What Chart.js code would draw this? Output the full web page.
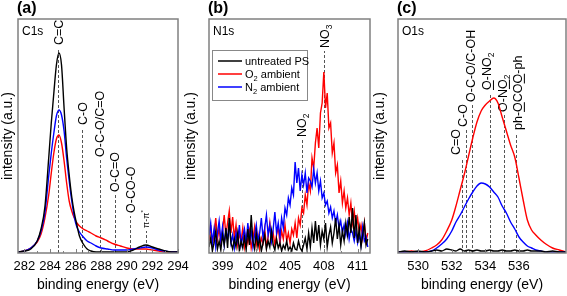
<!DOCTYPE html>
<html>
<head>
<meta charset="utf-8">
<script src="https://cdn.jsdelivr.net/npm/chart.js@4.4.0/dist/chart.umd.min.js"></script>
<style>
  html, body { margin: 0; padding: 0; background: #fff; }
  body { width: 567px; height: 296px; position: relative; overflow: hidden; }
  canvas { position: absolute; top: 0; }
  #chartA { left: 0; }
  #chartB { left: 183px; }
  #chartC { left: 372px; }
</style>
</head>
<body>
<canvas id="chartA" width="190" height="296"></canvas>
<canvas id="chartB" width="195" height="296"></canvas>
<canvas id="chartC" width="195" height="296"></canvas>
<script>
// --- DATOS: C1s ---
const C1S_ENERGY = [281.5, 282.0, 282.5, 283.0, 283.3, 283.6, 283.9, 284.1, 284.3, 284.5, 284.7, 284.9,
  285.1, 285.3, 285.5, 285.7, 285.9, 286.1, 286.3, 286.6, 286.9, 287.2, 287.6, 288.0, 288.5, 289.0,
  289.5, 290.0, 290.5, 291.0, 291.5, 292.0, 292.5, 293.0, 293.5, 294.0];
const C1S_UNTREATED = [1, 2, 4, 12, 24, 46, 95, 130, 160, 188, 200, 188, 145, 105, 78, 56, 40, 28, 17, 9, 4, 2,
  1, 1, 1, 1, 1, 1, 3, 6, 8, 6, 4, 2, 1, 1];
const C1S_O2 = [1, 2, 5, 11, 19, 35, 58, 80, 100, 114, 118, 110, 92, 70, 52, 42, 35, 30, 27, 24, 22, 20,
  17, 15, 12, 9, 7, 5, 4, 4, 4, 3, 2, 1, 1, 1];
const C1S_N2 = [1, 2, 5, 12, 22, 40, 77, 100, 120, 137, 143, 138, 122, 95, 72, 52, 36, 26, 21, 16, 12, 10,
  7, 5, 4, 3, 3, 3, 4, 5, 6, 5, 3, 2, 1, 1];
const C1S_TICKS = [282, 284, 286, 288, 290, 292, 294];
const C1S_LINE_E = [284.65, 286.5, 287.87, 289.04, 290.26, 291.49];
const C1S_LABELS = ['C=C', 'C-O', 'O-C-O/C=O', 'O-C=O', 'O-CO-O', 'π-π^*'];
const C1S_LABEL_AT = [208, 128, 96, 61, 40, 25];

// --- DATOS: N1s ---
const N1S_START = 397.8;
const N1S_STEP = 0.15;
const N1S_UNTREATED = [6, 15, 2, 10, 22, 4, 12, 3, 18, 8, 25, 5, 35, 10, 4, 14, 6, 20, 2, 12, 5, 16, 3, 24,
  8, 38, 12, 4, 20, 6, 15, 2, 10, 18, 4, 12, 6, 22, 8, 3, 14, 5, 10, 2, 8, 4, 12, 3,
  6, 2, 10, 4, 3, 12, 5, 2, 8, 15, 4, 20, 6, 25, 10, 32, 12, 28, 8, 22, 14, 30, 6, 18,
  26, 10, 20, 35, 14, 28, 8, 22, 12, 30, 18, 36, 20, 45, 15, 38, 10, 25, 6, 18, 30, 8, 14];
const N1S_O2 = [12, 28, 8, 20, 35, 14, 25, 10, 22, 38, 18, 30, 42, 20, 36, 15, 28, 8, 20, 12, 25, 6, 18, 10,
  22, 5, 14, 26, 8, 18, 4, 15, 10, 24, 6, 16, 30, 12, 20, 8, 18, 26, 10, 22, 14, 28, 12, 20,
  10, 24, 18, 30, 15, 35, 28, 45, 40, 58, 48, 70, 62, 95, 85, 110, 125, 105, 140, 150, 181, 145, 160, 125,
  130, 100, 110, 80, 88, 60, 72, 50, 62, 45, 55, 38, 50, 30, 42, 25, 35, 20, 28, 15, 30, 12, 20];
const N1S_N2 = [18, 30, 10, 24, 6, 20, 32, 12, 26, 8, 22, 14, 30, 10, 18, 5, 20, 12, 28, 8, 16, 24, 10, 30,
  14, 22, 6, 18, 28, 12, 20, 35, 15, 25, 38, 18, 28, 12, 24, 41, 20, 30, 16, 35, 25, 45, 38, 55,
  48, 65, 58, 91, 70, 85, 62, 78, 68, 80, 60, 75, 72, 66, 84, 70, 80, 62, 72, 55, 60, 48, 52, 40,
  46, 35, 42, 30, 38, 25, 32, 20, 28, 18, 30, 14, 24, 20, 12, 22, 10, 18, 8, 26, 12, 16, 6];
const N1S_ENERGY = N1S_O2.map((_, i) => +(N1S_START + i * N1S_STEP).toFixed(2));
const N1S_TICKS = [399, 402, 405, 408, 411];
const N1S_LINE_E = [406.03, 408.03];
const N1S_LABELS = ['NO_2', 'NO_3'];
const N1S_LABEL_AT = [116, 205];

// --- DATOS: O1s ---
const O1S_ENERGY = [528.8, 529.2, 529.6, 530.0, 530.4, 530.8, 531.1, 531.4, 531.7, 532.0, 532.25, 532.5,
  532.75, 533.0, 533.25, 533.5, 533.75, 534.0, 534.25, 534.5, 534.75, 535.0, 535.25, 535.5, 535.75,
  536.0, 536.25, 536.5, 536.75, 537.0, 537.3, 537.6, 538.0, 538.4, 538.8];
const O1S_UNTREATED = [1, 2, 1, 2, 1, 2, 3, 2, 4, 3, 2, 4, 2, 3, 2, 3, 2, 2, 3, 2, 2, 3, 2, 2, 3, 2, 2, 3, 2, 2, 2, 1, 2, 1, 1];
const O1S_O2 = [1, 1, 2, 1, 2, 5, 8, 13, 22, 33, 47, 63, 79, 97, 115, 131, 142, 148, 152, 155, 150, 136,
  122, 108, 96, 75, 53, 33, 23, 18, 13, 9, 5, 3, 1];
const O1S_N2 = [1, 1, 1, 1, 1, 2, 5, 9, 14, 22, 31, 38, 46, 54, 61, 67, 70, 69, 66, 61, 56, 47, 40, 31, 24,
  16, 11, 7, 5, 3, 2, 1, 1, 1, 1];
const O1S_TICKS = [530, 532, 534, 536];
const O1S_LINE_E = [532.61, 532.82, 533.23, 534.26, 535.11, 535.85];
const O1S_LABEL_E = [532.25, 532.66, 533.09, 534.08, 535.03, 535.92];
const O1S_LABELS = ['C=O', 'C-O', 'O-C-O/C-OH', '[O]-NO_2', 'O-N[O]_2', 'ph-[O]CO[O]-ph'];
const O1S_LABEL_AT = [98, 126, 151, 163, 141, 123];

const SERIES_NAMES = ['untreated PS', 'O_2 ambient', 'N_2 ambient'];
const SERIES_COLORS = ['#000000', '#ff0000', '#0000ff'];

const FONT = '"Liberation Sans", Arial, sans-serif';
const Y_MAX = 234;

// --- TEXTO CON SUBÍNDICES ---
const parseRich = (str) => {
  const segs = [];
  let under = false;
  for (let i = 0; i < str.length; i++) {
    const ch = str[i];
    if (ch === '[') { under = true; continue; }
    if (ch === ']') { under = false; continue; }
    if (ch === '_' || ch === '^') { segs.push({ t: str[i + 1], mode: ch, under }); i++; continue; }
    segs.push({ t: ch, mode: '', under });
  }
  return segs;
};

const drawRich = (ctx, str, x, y, size, rotate) => {
  ctx.save();
  ctx.translate(x, y);
  if (rotate) ctx.rotate(-Math.PI / 2);
  ctx.textBaseline = 'alphabetic';
  ctx.textAlign = 'left';
  ctx.fillStyle = '#000';
  let cx = 0;
  const base = rotate ? size * 0.36 : 0;
  parseRich(str).forEach(s => {
    const fs = s.mode ? size * 0.68 : size;
    ctx.font = `${fs}px ${FONT}`;
    const dy = s.mode === '_' ? size * 0.25 : s.mode === '^' ? -size * 0.42 : 0;
    ctx.fillText(s.t, cx, base + dy);
    const w = ctx.measureText(s.t).width;
    if (s.under) ctx.fillRect(cx, base + size * 0.14, w, 1);
    cx += w;
  });
  ctx.restore();
};

// --- PLUGIN DE DECORACIÓN ---
const decorPlugin = {
  id: 'decor',
  beforeDatasetsDraw(chart, args, opts) {
    const { ctx, chartArea, scales: { x, y } } = chart;
    ctx.save();
    ctx.strokeStyle = '#555';
    ctx.lineWidth = 1;
    ctx.setLineDash([3, 2]);
    opts.lineE.forEach((e, i) => {
      const px = Math.round(x.getPixelForValue(e)) + 0.5;
      const top = y.getPixelForValue(opts.labelAt[i]) + 3;
      ctx.beginPath();
      ctx.moveTo(px, chartArea.bottom);
      ctx.lineTo(px, top);
      ctx.stroke();
    });
    ctx.restore();
    opts.labels.forEach((lab, i) => {
      const e = opts.labelE ? opts.labelE[i] : opts.lineE[i];
      const size = lab.indexOf('π') >= 0 ? 9 : 12.5;
      drawRich(ctx, lab, x.getPixelForValue(e), y.getPixelForValue(opts.labelAt[i]), size, true);
    });
  },
  afterDatasetsDraw(chart, args, opts) {
    const { ctx, chartArea: a, scales: { x } } = chart;
    ctx.save();
    ctx.strokeStyle = '#808080';
    ctx.lineWidth = 1.5;
    ctx.strokeRect(a.left, a.top, a.right - a.left, a.bottom - a.top);
    // marcas de eje hacia dentro
    ctx.lineWidth = 1;
    const vals = x.ticks.map(t => t.value);
    vals.forEach((v, i) => {
      const px = Math.round(x.getPixelForValue(v)) + 0.5;
      ctx.beginPath(); ctx.moveTo(px, a.bottom); ctx.lineTo(px, a.bottom - 4); ctx.stroke();
      if (i < vals.length - 1) {
        const mx = Math.round(x.getPixelForValue((v + vals[i + 1]) / 2)) + 0.5;
        ctx.beginPath(); ctx.moveTo(mx, a.bottom); ctx.lineTo(mx, a.bottom - 2); ctx.stroke();
      }
    });
    ctx.restore();
    // etiqueta del panel y del nivel
    ctx.save();
    ctx.fillStyle = '#000';
    ctx.font = `bold 16px ${FONT}`;
    ctx.textBaseline = 'alphabetic';
    ctx.fillText(opts.tag, a.left - 1, a.top - 6);
    ctx.restore();
    drawRich(ctx, opts.level, a.left + 4, a.top + 16, 12, false);
    if (opts.legend) {
      const bx = a.left + 3, by = a.top + 31;
      ctx.save();
      ctx.fillStyle = '#fff';
      ctx.fillRect(bx, by, 95, 50);
      ctx.strokeStyle = '#888';
      ctx.lineWidth = 1;
      ctx.strokeRect(bx + 0.5, by + 0.5, 95, 50);
      SERIES_NAMES.forEach((name, i) => {
        const ry = by + 11 + i * 13;
        ctx.strokeStyle = SERIES_COLORS[i];
        ctx.lineWidth = 1.5;
        ctx.beginPath(); ctx.moveTo(bx + 6, ry); ctx.lineTo(bx + 30, ry); ctx.stroke();
        drawRich(ctx, name, bx + 33, ry + 4, 11, false);
      });
      ctx.restore();
    }
  }
};

// --- CONSTRUCCIÓN DE PANELES ---
const mkSet = (xs, ys, i, tension) => ({
  label: SERIES_NAMES[i],
  data: xs.map((x, k) => ({ x, y: ys[k] })),
  borderColor: SERIES_COLORS[i],
  borderWidth: 1.4,
  pointRadius: 0,
  tension,
  cubicInterpolationMode: tension ? 'monotone' : 'default',
  order: [0, 2, 1][i]
});

const makePanel = (id, cfg) => new Chart(document.getElementById(id), {
  type: 'line',
  data: {
    datasets: [
      mkSet(cfg.energy, cfg.series[0], 0, cfg.tension),
      mkSet(cfg.energy, cfg.series[1], 1, cfg.tension),
      mkSet(cfg.energy, cfg.series[2], 2, cfg.tension)
    ]
  },
  options: {
    responsive: false,
    animation: false,
    events: [],
    layout: { autoPadding: false, padding: { left: 0, right: cfg.padRight, top: 19, bottom: 0 } },
    scales: {
      x: {
        type: 'linear', min: cfg.min, max: cfg.max,
        afterBuildTicks: s => { s.ticks = cfg.ticks.map(v => ({ value: v })); },
        afterFit: s => { s.height = 43; s.paddingLeft = 0; s.paddingRight = 0; },
        ticks: { color: '#000', font: { size: 13, family: FONT }, padding: 6, maxRotation: 0, autoSkip: false, callback: v => String(v) },
        grid: { display: false, drawTicks: false },
        border: { display: false },
        title: { display: true, text: 'binding energy (eV)', color: '#000', font: { size: 14, family: FONT }, padding: { top: 0, bottom: 2 } }
      },
      y: {
        min: 0, max: Y_MAX,
        afterFit: s => { s.width = cfg.yWidth; s.paddingTop = 0; s.paddingBottom = 0; },
        ticks: { display: false },
        grid: { display: false, drawTicks: false },
        border: { display: false },
        title: { display: true, text: 'intensity (a.u.)', color: '#000', font: { size: 14, family: FONT }, padding: { top: 0, bottom: 0 } }
      }
    },
    plugins: {
      legend: { display: false },
      tooltip: { enabled: false },
      decor: cfg.decor
    }
  },
  plugins: [decorPlugin]
});

makePanel('chartA', {
  energy: C1S_ENERGY, series: [C1S_UNTREATED, C1S_O2, C1S_N2], tension: 0.4,
  min: 281.5, max: 294, ticks: C1S_TICKS, yWidth: 18, padRight: 12,
  decor: { tag: '(a)', level: 'C1s', lineE: C1S_LINE_E, labels: C1S_LABELS, labelAt: C1S_LABEL_AT }
});

makePanel('chartB', {
  energy: N1S_ENERGY, series: [N1S_UNTREATED, N1S_O2, N1S_N2], tension: 0,
  min: 397.8, max: 412.1, ticks: N1S_TICKS, yWidth: 26, padRight: 8,
  decor: { tag: '(b)', level: 'N1s', lineE: N1S_LINE_E, labels: N1S_LABELS, labelAt: N1S_LABEL_AT, legend: true }
});

makePanel('chartC', {
  energy: O1S_ENERGY, series: [O1S_UNTREATED, O1S_O2, O1S_N2], tension: 0.4,
  min: 528.8, max: 538.8, ticks: O1S_TICKS, yWidth: 26, padRight: 1,
  decor: { tag: '(c)', level: 'O1s', lineE: O1S_LINE_E, labelE: O1S_LABEL_E, labels: O1S_LABELS, labelAt: O1S_LABEL_AT }
});
</script>
</body>
</html>
